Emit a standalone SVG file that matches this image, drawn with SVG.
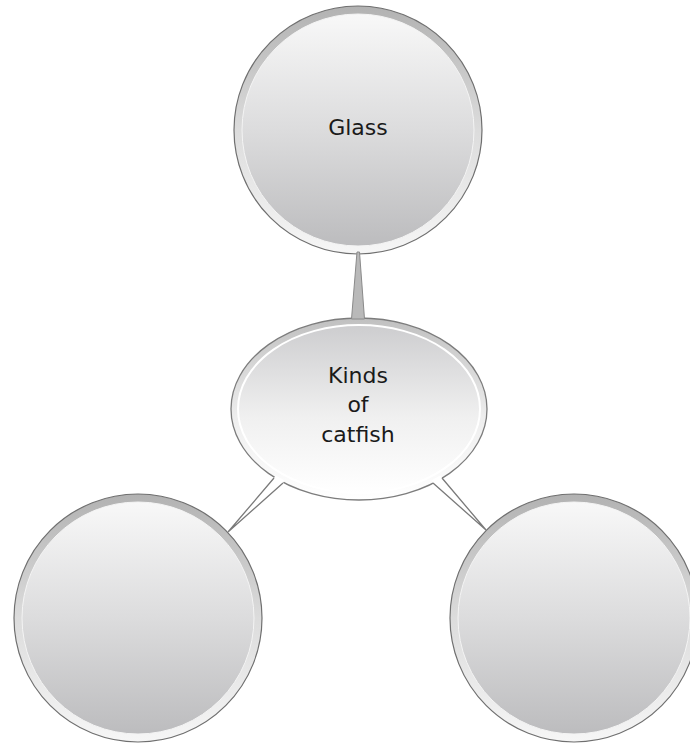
<svg xmlns="http://www.w3.org/2000/svg" width="690" height="744" viewBox="0 0 690 744">
  <defs>
    <linearGradient id="rimC" x1="0" y1="0" x2="0" y2="1">
      <stop offset="0" stop-color="#b2b2b2"/>
      <stop offset="0.5" stop-color="#dcdcdc"/>
      <stop offset="1" stop-color="#f6f6f6"/>
    </linearGradient>
    <linearGradient id="inC" x1="0" y1="0" x2="0" y2="1">
      <stop offset="0" stop-color="#f8f8f8"/>
      <stop offset="0.5" stop-color="#dcdcdd"/>
      <stop offset="1" stop-color="#bcbcbe"/>
    </linearGradient>
    <linearGradient id="rimE" x1="0" y1="0" x2="0" y2="1">
      <stop offset="0" stop-color="#c0c0c0"/>
      <stop offset="0.55" stop-color="#eeeeee"/>
      <stop offset="1" stop-color="#ffffff"/>
    </linearGradient>
    <linearGradient id="inE" x1="0" y1="0" x2="0" y2="1">
      <stop offset="0" stop-color="#cdcdcf"/>
      <stop offset="0.55" stop-color="#f0f0f0"/>
      <stop offset="1" stop-color="#ffffff"/>
    </linearGradient>
  </defs>
  <style>
    .rim { fill: url(#rimC); stroke: #6f6f6f; stroke-width: 1.2; }
    .inner { fill: url(#inC); stroke: #f4f4f4; stroke-width: 1; }
    .erim { fill: url(#rimE); stroke: #7c7c7c; stroke-width: 1.3; }
    .einner { fill: url(#inE); stroke: #ffffff; stroke-width: 2; }
    .lbl { font-family: "DejaVu Sans", "Noto Sans", sans-serif; font-size: 22px; fill: #1a1a1a; text-anchor: middle; }
    .wedge { fill: #ffffff; stroke: none; }
    .wline { fill: none; stroke: #7a7a7a; stroke-width: 1.3; stroke-linejoin: miter; }
    .stem { fill: #b9b9b9; stroke: #8a8a8a; stroke-width: 1; }
  </style>

  <g id="node-glass">
    <circle class="rim" cx="358" cy="130" r="124"/>
    <circle class="inner" cx="358" cy="130" r="116"/>
    <text class="lbl" x="358" y="135">Glass</text>
  </g>

  <g id="node-left">
    <circle class="rim" cx="138" cy="618" r="124"/>
    <circle class="inner" cx="138" cy="618" r="116"/>
  </g>

  <g id="node-right">
    <circle class="rim" cx="574" cy="618" r="124"/>
    <circle class="inner" cx="574" cy="618" r="116"/>
  </g>

  <g id="node-center">
    <ellipse class="erim" cx="359" cy="409" rx="128" ry="91"/>
    <ellipse class="einner" cx="359" cy="409" rx="121" ry="84"/>
    <text class="lbl" x="358" y="383">Kinds</text>
    <text class="lbl" x="358" y="412">of</text>
    <text class="lbl" x="358" y="442">catfish</text>
  </g>

  <g id="connectors">
    <polygon class="stem" points="357,252 359.5,252 364.5,319 351.5,319"/>
    <polygon class="wedge" points="228,532 274,478 275.6,475.5 284.6,480.5 283,483"/>
    <polyline class="wline" points="274,478 228,532 283,483"/>
    <polygon class="wedge" points="486,530 433,483 431.6,480.3 440.6,475.3 442,478"/>
    <polyline class="wline" points="433,483 486,530 442,478"/>
  </g>
</svg>
